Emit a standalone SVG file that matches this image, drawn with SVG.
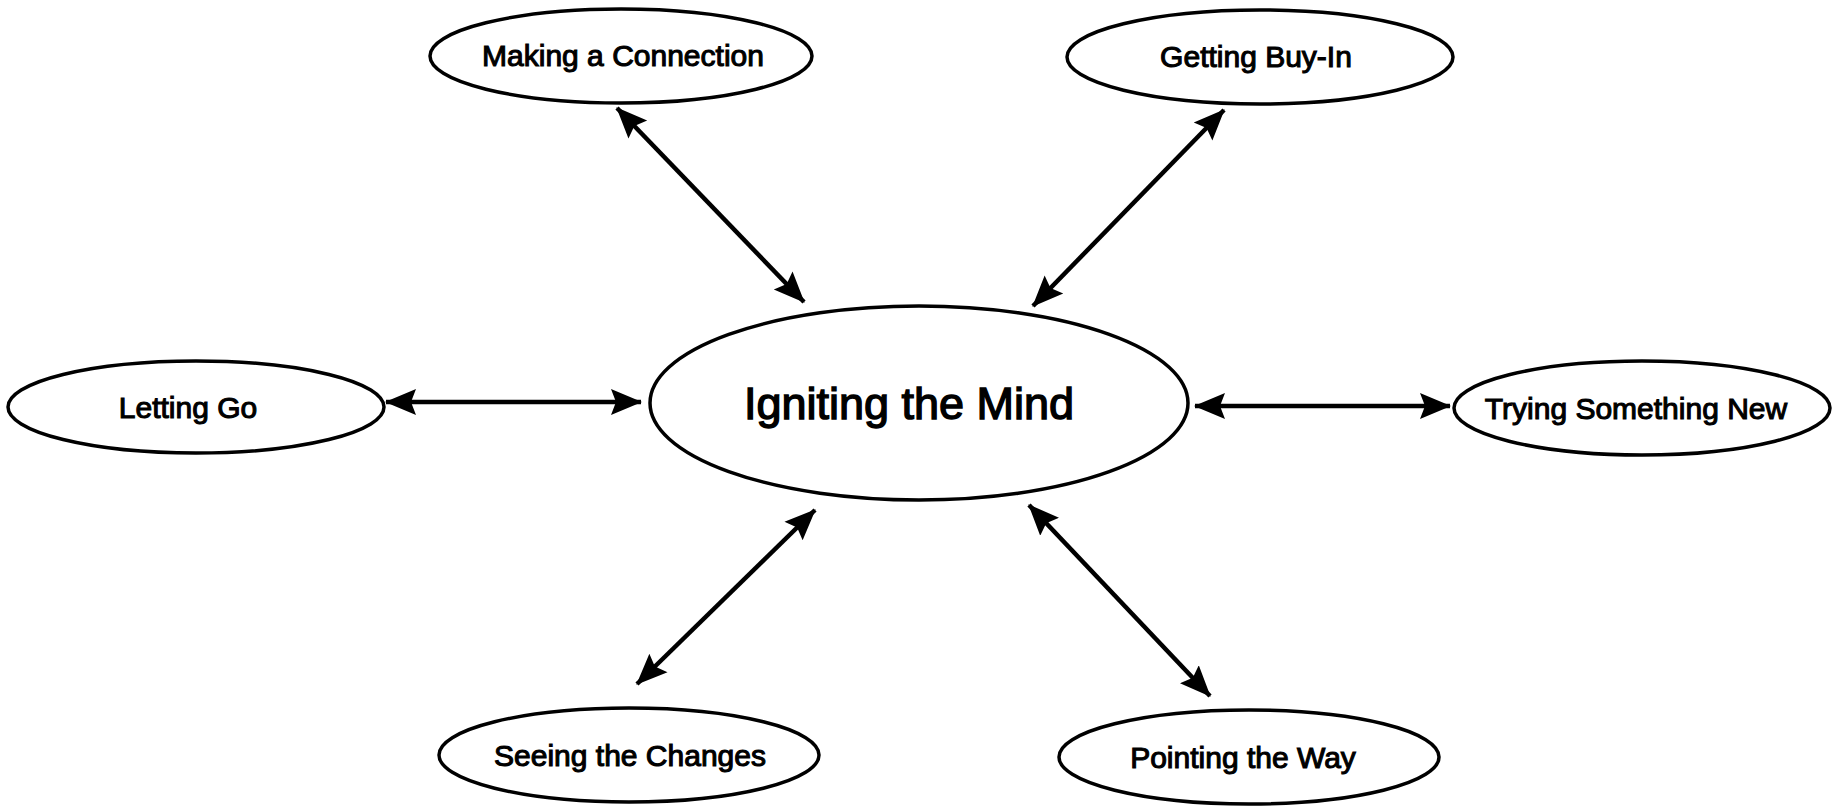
<svg xmlns="http://www.w3.org/2000/svg" width="1833" height="806" viewBox="0 0 1833 806">
  <style>
    .node { fill: #fff; stroke: #000; stroke-width: 3.5; }
    .lbl { font-family: "Liberation Sans", Arial, sans-serif; font-size: 30px; fill: #000; stroke: #000; stroke-width: 1.1; text-anchor: middle; }
    .main { font-size: 45px; stroke-width: 1.4; }
    .link { stroke: #000; stroke-width: 4.5; fill: none; marker-start: url(#head); marker-end: url(#head); }
  </style>
  <defs>
    <marker id="head" markerUnits="userSpaceOnUse" markerWidth="32" markerHeight="28" viewBox="0 0 32 28" refX="30" refY="14" orient="auto-start-reverse">
      <path d="M0,1 L31,14 L0,27 L5,14 z" fill="#000"/>
    </marker>
  </defs>

  <rect width="1833" height="806" fill="#fff"/>

  <g id="connectors">
    <line class="link" x1="617" y1="108" x2="804" y2="302"/>
    <line class="link" x1="1224" y1="110" x2="1033" y2="306"/>
    <line class="link" x1="386" y1="402" x2="641" y2="402"/>
    <line class="link" x1="1195" y1="406" x2="1450" y2="406"/>
    <line class="link" x1="815" y1="510" x2="637" y2="684"/>
    <line class="link" x1="1029" y1="505" x2="1210" y2="696"/>
  </g>

  <g id="node-center">
    <ellipse class="node" cx="919" cy="403" rx="269" ry="97"/>
    <text class="lbl main" x="909" y="419">Igniting the Mind</text>
  </g>
  <g id="node-connection">
    <ellipse class="node" cx="621" cy="56" rx="191" ry="47"/>
    <text class="lbl" x="623" y="66">Making a Connection</text>
  </g>
  <g id="node-buyin">
    <ellipse class="node" cx="1260" cy="57" rx="193" ry="47"/>
    <text class="lbl" x="1256" y="67">Getting Buy-In</text>
  </g>
  <g id="node-letting-go">
    <ellipse class="node" cx="196" cy="407" rx="188" ry="46"/>
    <text class="lbl" x="188" y="418">Letting Go</text>
  </g>
  <g id="node-trying">
    <ellipse class="node" cx="1642" cy="408" rx="188" ry="47"/>
    <text class="lbl" x="1636" y="419">Trying Something New</text>
  </g>
  <g id="node-seeing">
    <ellipse class="node" cx="629" cy="755" rx="190" ry="47"/>
    <text class="lbl" x="630" y="766">Seeing the Changes</text>
  </g>
  <g id="node-pointing">
    <ellipse class="node" cx="1249" cy="757" rx="190" ry="47"/>
    <text class="lbl" x="1243" y="768">Pointing the Way</text>
  </g>
</svg>
